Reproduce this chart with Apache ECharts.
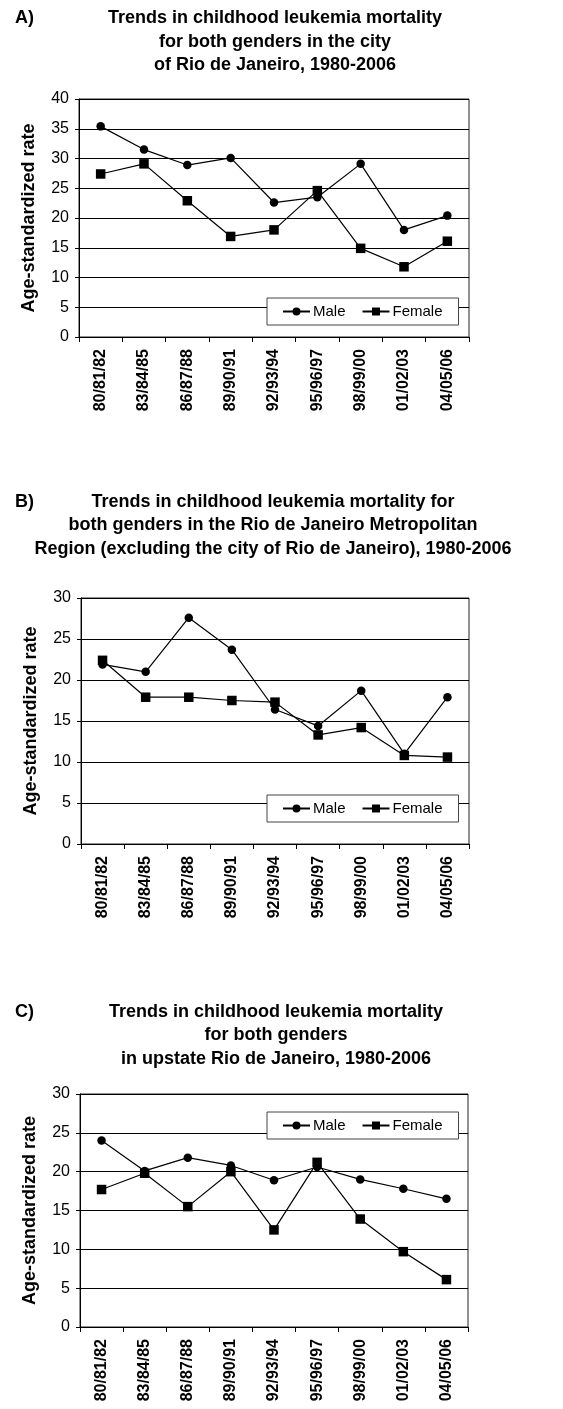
<!DOCTYPE html>
<html>
<head>
<meta charset="utf-8">
<script src="https://cdn.jsdelivr.net/npm/echarts@6/dist/echarts.min.js"></script>
<style>
html,body{margin:0;padding:0;background:#fff;}
#c{width:563px;height:1409px;}
</style>
</head>
<body>
<div id="c"></div>
<script>
var categories = ['80/81/82','83/84/85','86/87/88','89/90/91','92/93/94','95/96/97','98/99/00','01/02/03','04/05/06'];
var maleA = [35.4, 31.5, 28.9, 30.1, 22.6, 23.5, 29.1, 18.0, 20.4];
var femaleA = [27.4, 29.1, 22.9, 16.9, 18.0, 24.6, 14.9, 11.8, 16.1];
var maleB = [21.9, 21.0, 27.6, 23.7, 16.4, 14.4, 18.7, 11.0, 17.9];
var femaleB = [22.4, 17.9, 17.9, 17.5, 17.3, 13.3, 14.2, 10.8, 10.6];
var maleC = [24.0, 20.1, 21.8, 20.8, 18.9, 20.6, 19.0, 17.8, 16.5];
var femaleC = [17.7, 19.8, 15.5, 20.0, 12.5, 21.2, 13.9, 9.7, 6.1];
var titles = [
  'Trends in childhood leukemia mortality\nfor both genders in the city\nof Rio de Janeiro, 1980-2006',
  'Trends in childhood leukemia mortality for\nboth genders in the Rio de Janeiro Metropolitan\nRegion (excluding the city of Rio de Janeiro), 1980-2006',
  'Trends in childhood leukemia mortality\nfor both genders\nin upstate Rio de Janeiro, 1980-2006'
];
var panelLetters = ['A)','B)','C)'];
var yMax = [40, 30, 30];

var FONT = 'Liberation Sans, Arial, Helvetica, sans-serif';
var grids = [
  {left: 79, width: 390, top: 99, height: 238},
  {left: 81, width: 388, top: 598, height: 246},
  {left: 80, width: 388, top: 1094, height: 233}
];
var titleTops = [6.5, 490, 1000];
var titleCenters = [275, 273, 276];
var legendPos = [{left: 267, top: 298}, {left: 267, top: 795}, {left: 267, top: 1112}];
var maleSets = [maleA, maleB, maleC];
var femaleSets = [femaleA, femaleB, femaleC];

var option = {
  backgroundColor: '#fff',
  animation: false,
  title: [],
  legend: [],
  grid: [],
  xAxis: [],
  yAxis: [],
  series: []
};

for (var i = 0; i < 3; i++) {
  option.title.push({
    text: titles[i], left: titleCenters[i], top: titleTops[i], textAlign: 'center', padding: 0,
    textStyle: {fontFamily: FONT, fontSize: 18, fontWeight: 'bold', color: '#000', lineHeight: 23.5}
  });
  option.title.push({
    text: panelLetters[i], left: 15, top: titleTops[i], padding: 0,
    textStyle: {fontFamily: FONT, fontSize: 18, fontWeight: 'bold', color: '#000', lineHeight: 23.5}
  });
  option.grid.push({
    left: grids[i].left, width: grids[i].width, top: grids[i].top, height: grids[i].height,
    show: true, borderColor: '#222', borderWidth: 1, backgroundColor: 'transparent'
  });
  option.xAxis.push({
    type: 'category', gridIndex: i, data: categories, boundaryGap: true,
    axisLine: {lineStyle: {color: '#000', width: 1}},
    axisTick: {show: true, length: 5, lineStyle: {color: '#000'}},
    axisLabel: {rotate: 90, margin: 12, interval: 0, fontFamily: FONT, fontSize: 16, fontWeight: 'bold', color: '#000'}
  });
  option.yAxis.push({
    type: 'value', gridIndex: i, min: 0, max: yMax[i], interval: 5,
    name: 'Age-standardized rate', nameLocation: 'middle', nameGap: 41, nameRotate: 90,
    nameTextStyle: {fontFamily: FONT, fontSize: 18, fontWeight: 'bold', color: '#000'},
    axisLine: {show: true, lineStyle: {color: '#000', width: 1}},
    axisTick: {show: true, length: 4, lineStyle: {color: '#000'}},
    axisLabel: {fontFamily: FONT, fontSize: 16, color: '#000', margin: 10},
    splitLine: {show: true, lineStyle: {color: '#000', width: 1}}
  });
  option.legend.push({
    left: legendPos[i].left, top: legendPos[i].top,
    data: ['Male' + i, 'Female' + i],
    formatter: function (n) { return n.replace(/\d$/, ''); },
    orient: 'horizontal', itemGap: 16, itemWidth: 27, itemHeight: 10,
    backgroundColor: '#fff', borderColor: '#444', borderWidth: 1,
    padding: [6, 16, 6, 15],
    textStyle: {fontFamily: FONT, fontSize: 15, color: '#000', padding: [0,0,0,-2]}
  });
  option.series.push({
    name: 'Male' + i, type: 'line', xAxisIndex: i, yAxisIndex: i, data: maleSets[i],
    symbol: 'circle', symbolSize: 8.5,
    lineStyle: {color: '#000', width: 1.2}, itemStyle: {color: '#000'}, z: 3
  });
  option.series.push({
    name: 'Female' + i, type: 'line', xAxisIndex: i, yAxisIndex: i, data: femaleSets[i],
    symbol: 'rect', symbolSize: 9.5,
    lineStyle: {color: '#000', width: 1.2}, itemStyle: {color: '#000'}, z: 3
  });
}

var chart = echarts.init(document.getElementById('c'), null, {renderer: 'canvas'});
chart.setOption(option);
</script>
</body>
</html>
